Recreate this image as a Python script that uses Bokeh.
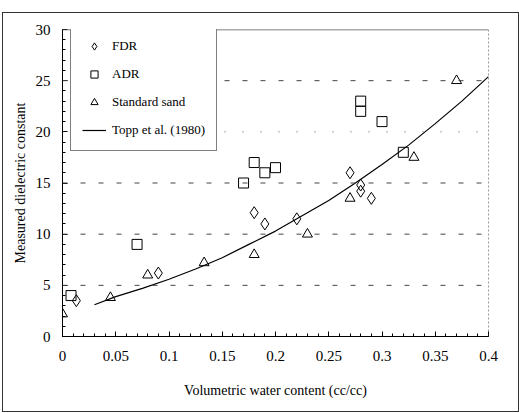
from bokeh.plotting import figure
from bokeh.models import (Span, Legend, LegendItem, FixedTicker, Range1d)
from bokeh.embed import file_html
from bokeh.resources import INLINE

# ---- data ----
fdr_x = [0.013, 0.09, 0.18, 0.19, 0.22, 0.27, 0.28, 0.28, 0.29]
fdr_y = [3.5, 6.2, 12.1, 11.0, 11.5, 16.0, 14.8, 14.2, 13.5]

adr_x = [0.008, 0.07, 0.17, 0.18, 0.19, 0.20, 0.28, 0.28, 0.30, 0.32]
adr_y = [4.0, 9.0, 15.0, 17.0, 16.0, 16.5, 23.0, 22.0, 21.0, 18.0]

sand_x = [0.0, 0.045, 0.08, 0.133, 0.18, 0.23, 0.27, 0.33, 0.37]
sand_y = [2.2, 3.8, 6.0, 7.2, 8.0, 10.0, 13.5, 17.5, 25.0]

topp_x = [0.03, 0.05, 0.075, 0.1, 0.125, 0.15, 0.175, 0.2, 0.225, 0.25,
          0.275, 0.3, 0.325, 0.35, 0.375, 0.4]
topp_y = [3.1, 3.9, 4.7, 5.6, 6.6, 7.7, 9.0, 10.3, 11.8, 13.3,
          15.0, 16.8, 18.7, 20.8, 23.0, 25.4]

x_ticks = [0, 0.05, 0.1, 0.15, 0.2, 0.25, 0.3, 0.35, 0.4]
x_tick_labels = ["0", "0.05", "0.1", "0.15", "0.2", "0.25", "0.3", "0.35", "0.4"]
y_ticks = [0, 5, 10, 15, 20, 25, 30]
y_tick_labels = ["0", "5", "10", "15", "20", "25", "30"]
x_minor = [i / 100 for i in range(0, 41)]
y_minor = list(range(0, 31))

FONT = "Times New Roman"

p = figure(width=515, height=398, output_backend="svg", toolbar_location=None,
           x_range=Range1d(0, 0.4), y_range=Range1d(0, 30),
           min_border_left=59, min_border_right=30, min_border_top=16,
           min_border_bottom=75,
           styles={"margin-left": "3px", "margin-top": "13px",
                   "outline": "1.5px solid #333333"})
p.xgrid.visible = False
p.ygrid.visible = False
p.outline_line_color = None
p.background_fill_color = "white"
p.border_fill_color = "white"

for yv in [5, 10, 15, 25]:
    p.add_layout(Span(location=yv, dimension="width", line_color="#444444",
                      line_width=1, line_dash="5 13"))
p.add_layout(Span(location=20, dimension="width", line_color="#555555",
                  line_width=1, line_dash="1 17"))
p.add_layout(Span(location=30, dimension="width", line_color="#555555", line_width=1.5))
p.add_layout(Span(location=0.4, dimension="height", line_color="#333333",
                  line_width=1, line_dash="2 2"))

for ax, ticks, labels, minor in [(p.xaxis[0], x_ticks, x_tick_labels, x_minor),
                                 (p.yaxis[0], y_ticks, y_tick_labels, y_minor)]:
    ax.ticker = FixedTicker(ticks=ticks, minor_ticks=minor)
    ax.major_label_overrides = {t: l for t, l in zip(ticks, labels)}
    ax.major_tick_in = 5
    ax.major_tick_out = 0
    ax.minor_tick_in = 3
    ax.minor_tick_out = 0
    ax.axis_line_color = "black"
    ax.major_tick_line_color = "black"
    ax.minor_tick_line_color = "black"
    ax.major_label_text_font = FONT
    ax.major_label_text_font_size = "15px"
    ax.major_label_text_color = "black"
    ax.axis_label_text_font = FONT
    ax.axis_label_text_font_size = "14px"
    ax.axis_label_text_font_style = "normal"
    ax.axis_label_text_color = "black"

p.xaxis.axis_label = "Volumetric water content (cc/cc)"
p.yaxis.axis_label = "Measured dielectric constant"
p.xaxis.major_label_standoff = 14
p.xaxis.axis_label_standoff = 19
p.yaxis.major_label_standoff = 12
p.yaxis.axis_label_standoff = 5

r_topp = p.line(topp_x, topp_y, line_color="black", line_width=1.2)
r_fdr = p.scatter(fdr_x, fdr_y, marker="diamond", size=12, fill_color=None,
                  line_color="black", line_width=1)
r_adr = p.scatter(adr_x, adr_y, marker="square", size=10, fill_color=None,
                  line_color="black", line_width=1)
r_sand = p.scatter(sand_x, sand_y, marker="triangle", size=10, fill_color=None,
                   line_color="black", line_width=1)

legend = Legend(items=[LegendItem(label="FDR", renderers=[r_fdr]),
                       LegendItem(label="ADR", renderers=[r_adr]),
                       LegendItem(label="Standard sand", renderers=[r_sand]),
                       LegendItem(label="Topp et al. (1980)", renderers=[r_topp])],
                location=(8, 185), padding=11, spacing=10, label_height=18,
                glyph_height=18, glyph_width=24, label_standoff=6, margin=0,
                border_line_color="black", border_line_width=1,
                label_text_font=FONT, label_text_font_size="13px",
                label_text_color="black", background_fill_alpha=1)
p.add_layout(legend)

open("out.html", "w").write(file_html(p, INLINE))
